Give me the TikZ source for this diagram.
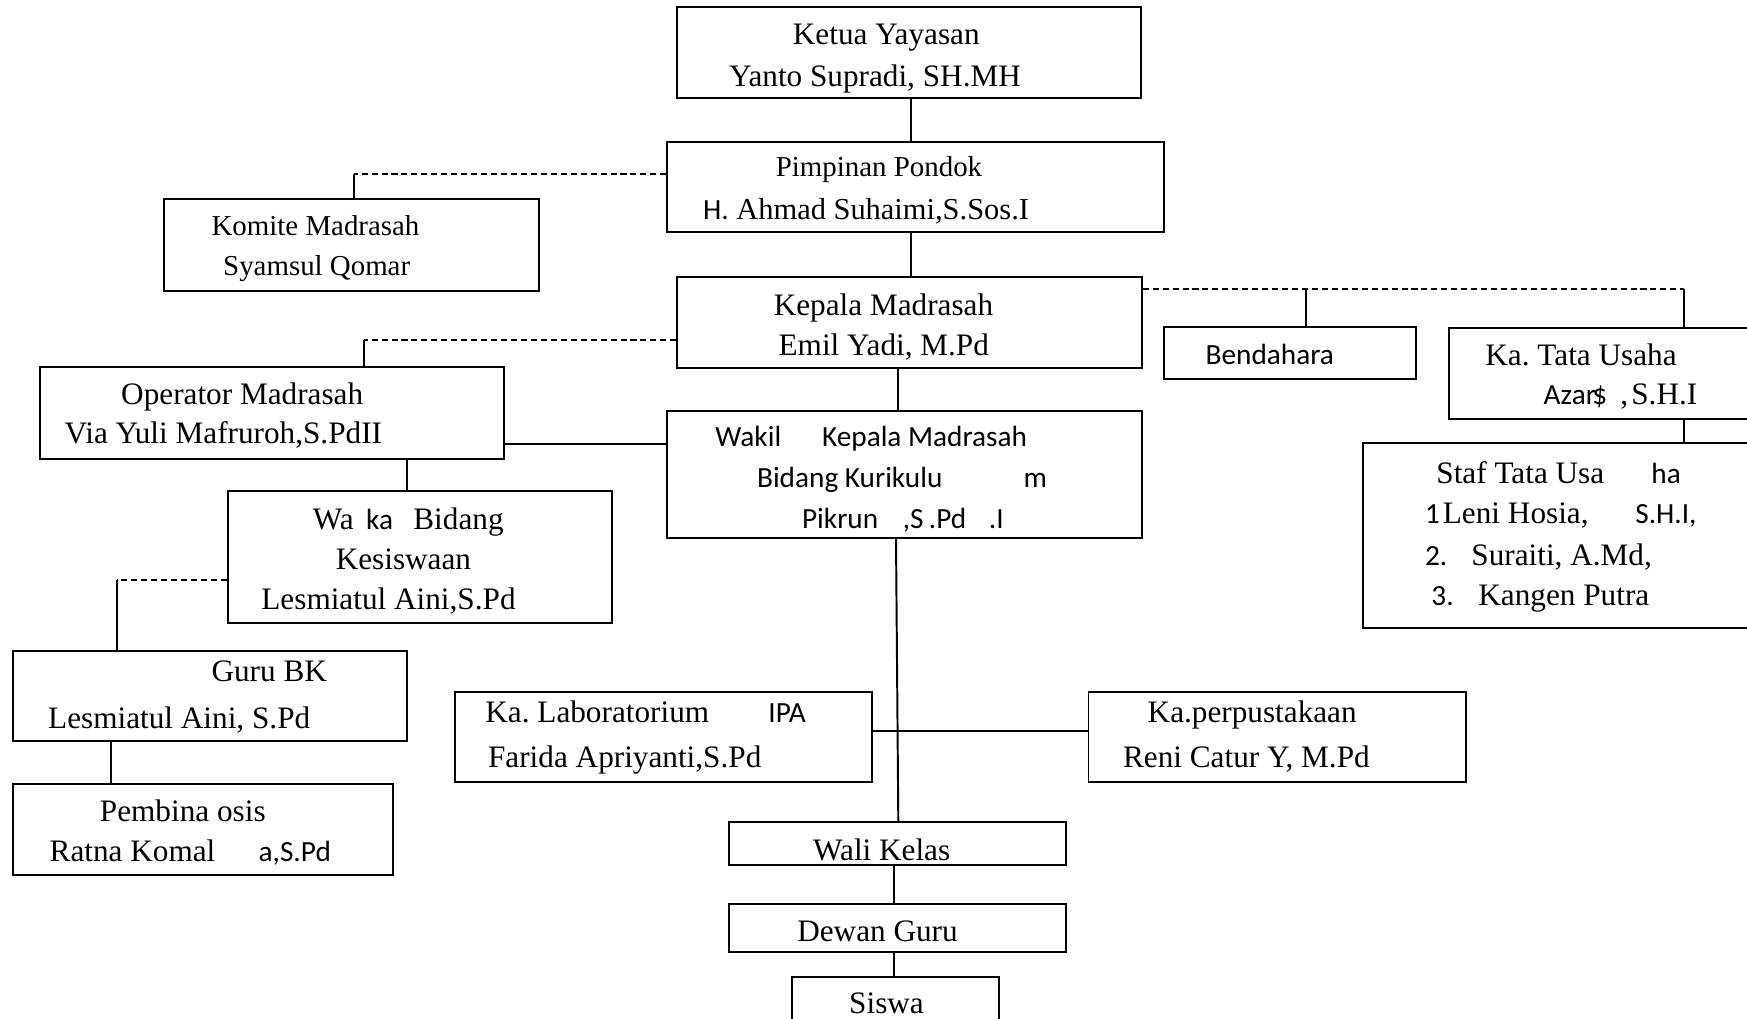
\documentclass[tikz,border=0pt]{standalone}
\usepackage{fontspec}
\setmainfont{Liberation Serif}
\newfontfamily\calf{Carlito}
\usetikzlibrary{fit}
\frenchspacing
\tikzset{
  orgbox/.style={draw, line width=1pt, inner sep=0pt, rectangle},
  link/.style={line width=1pt},
  dlink/.style={line width=1pt, dash pattern=on 3.1pt off 2pt},
  ts/.style={inner sep=0pt, font=\frenchspacing\fontsize{16}{19}\selectfont},
  tsm/.style={inner sep=0pt, font=\frenchspacing\fontsize{14.8}{18}\selectfont},
  cs/.style={inner sep=0pt, font=\frenchspacing\calf\fontsize{15}{18}\selectfont},
}
\begin{document}
\frenchspacing
\begin{tikzpicture}[x=0.018cm,y=-0.018cm]
\useasboundingbox (0,0) rectangle (1747,1019);
\clip (0,0) rectangle (1747,1019);
% boxes
\node[orgbox, fit={(676.7,7.3) (1141,98.3)}] (ketua) {};
\node[orgbox, fit={(667.3,142.3) (1164,232.3)}] (pimpinan) {};
\node[orgbox, fit={(164,199.3) (539.3,290.7)}] (komite) {};
\node[orgbox, fit={(677.3,276.7) (1141.7,368.3)}] (kepala) {};
\node[orgbox, fit={(1164,327.3) (1415.7,379.3)}] (bendahara) {};
\node[orgbox, fit={(1448.7,327.7) (1760,419)}] (katata) {};
\node[orgbox, fit={(1362.8,443) (1760,627.7)}] (staf) {};
\node[orgbox, fit={(40,367.3) (503.6,458.7)}] (operator) {};
\node[orgbox, fit={(667.3,411) (1141.7,537.7)}] (wakil) {};
\node[orgbox, fit={(228,490.7) (611.7,622.7)}] (waka) {};
\node[orgbox, fit={(13.3,650.7) (407.3,740.7)}] (guru) {};
\node[orgbox, fit={(13.3,784) (393.3,875)}] (pembina) {};
\node[orgbox, fit={(454.6,692.3) (872.4,781.7)}] (kalab) {};
\node[orgbox, fit={(1088.5,692.3) (1465.9,781.7)}] (perpus) {};
\node[orgbox, fit={(729,822.3) (1065.7,865)}] (wali) {};
\node[orgbox, fit={(729,904) (1065.7,952.3)}] (dewan) {};
\node[orgbox, fit={(791.7,977.3) (999,1035)}] (siswa) {};
% texts
\node[ts, anchor=base] (t1) at (886.3,45) {Ketua Yayasan};
\node[ts, anchor=base] (t2) at (875,87) {Yanto Supradi, SH.MH};
\node[tsm, anchor=base] (t3) at (879,177) {Pimpinan Pondok};
\node[inner sep=0pt, anchor=base west, font=\frenchspacing\fontsize{15.6}{18}\selectfont] (t4) at (702.7,220) {{\calf\fontsize{15}{18}\selectfont H.} Ahmad Suhaimi,S.Sos.I};
\node[tsm, anchor=base] (t5) at (315.5,235.7) {Komite Madrasah};
\node[tsm, anchor=base] (t6) at (316.7,275) {Syamsul Qomar};
\node[ts, anchor=base] (t7) at (883.5,315) {Kepala Madrasah};
\node[ts, anchor=base] (t8) at (883.8,355) {Emil Yadi, M.Pd};
\node[cs, anchor=base] (t9) at (1269.8,364) {Bendahara};
\node[ts, anchor=base] (t10) at (1581,365) {Ka. Tata Usaha};
\node[cs, anchor=base west] (t11) at (1543.3,404) {Azar\kern-0.12em\$};
\node[ts, anchor=base west] (t12) at (1620,404) {\spaceskip=0.1em\relax , S.H.I};
\node[ts, anchor=base west] (t13) at (1436,483.5) {Staf Tata Usa};
\node[cs, anchor=base west] (t14) at (1651,483.5) {ha};
\node[cs, anchor=base west] (t15) at (1424.7,523.5) {1};
\node[ts, anchor=base west] (t16) at (1442.5,523.5) {Leni Hosia,};
\node[cs, anchor=base west] (t17) at (1635,523.5) {S.H.I,};
\node[cs, anchor=base west] (t18) at (1424.7,565.5) {2.};
\node[ts, anchor=base west] (t19) at (1471,565.5) {Suraiti, A.Md,};
\node[cs, anchor=base west] (t20) at (1431,605.5) {3.};
\node[ts, anchor=base west] (t21) at (1478,605.5) {Kangen Putra};
\node[ts, anchor=base] (t22) at (242.2,404.5) {Operator Madrasah};
\node[ts, anchor=base] (t23) at (223.4,443.3) {Via Yuli Mafruroh,S.PdII};
\node[cs, anchor=base west] (t24) at (715,446.7) {Wakil};
\node[cs, anchor=base west] (t25) at (821.7,446.7) {Kepala Madrasah};
\node[cs, anchor=base west] (t26) at (756.7,487.5) {Bidang Kurikulu};
\node[cs, anchor=base west] (t27) at (1023.3,487.5) {m};
\node[cs, anchor=base west] (t28) at (801.7,528.3) {Pikrun};
\node[cs, anchor=base west] (t29) at (902.5,528.3) {,S};
\node[cs, anchor=base west] (t29b) at (928.5,528.3) {.Pd};
\node[cs, anchor=base west] (t29c) at (988.5,528.3) {.I};
\node[ts, anchor=base west] (t30) at (312.4,529) {Wa};
\node[cs, anchor=base west] (t31) at (365.8,529) {ka};
\node[ts, anchor=base west] (t32) at (413,529) {Bidang};
\node[ts, anchor=base] (t33) at (403.4,569) {Kesiswaan};
\node[ts, anchor=base] (t34) at (388.5,609) {Lesmiatul Aini,S.Pd};
\node[ts, anchor=base] (t35) at (269.2,681.5) {Guru BK};
\node[ts, anchor=base] (t36) at (179.2,728) {Lesmiatul Aini, S.Pd};
\node[ts, anchor=base] (t37) at (182.8,821) {Pembina osis};
\node[ts, anchor=base west] (t38) at (49.3,861) {Ratna Komal};
\node[cs, anchor=base west] (t39) at (258.3,861) {a,S.Pd};
\node[ts, anchor=base west] (t40) at (485,722.7) {Ka. Laboratorium};
\node[cs, anchor=base west] (t41) at (768,722.7) {IPA};
\node[ts, anchor=base west] (t42) at (487.7,767.3) {Farida Apriyanti,S.Pd};
\node[ts, anchor=base] (t43) at (1252.2,722.7) {Ka.perpustakaan};
\node[ts, anchor=base] (t44) at (1246.4,767.3) {Reni Catur Y, M.Pd};
\node[ts, anchor=base] (t45) at (881.7,860) {Wali Kelas};
\node[ts, anchor=base] (t46) at (877.5,941.7) {Dewan Guru};
\node[ts, anchor=base] (t47) at (886.5,1013.3) {Siswa};
% connectors
\coordinate (cKP) at (911,0);
\draw[link] (ketua.south -| cKP) -- (pimpinan.north -| cKP);
\draw[link] (pimpinan.south -| cKP) -- (kepala.north -| cKP);
\coordinate (kKom) at (354,174);
\draw[dlink] (pimpinan.west |- kKom) -- (kKom);
\draw[link] (kKom) -- (komite.north -| kKom);
\coordinate (kOp) at (364,340);
\draw[dlink] (kepala.west |- kOp) -- (kOp);
\draw[link] (kOp) -- (operator.north -| kOp);
\coordinate (kTU) at (1684,289);
\coordinate (kBen) at (1306,289);
\draw[dlink] (kepala.east |- kTU) -- (kTU);
\draw[link] (kBen) -- (bendahara.north -| kBen);
\draw[link] (kTU) -- (katata.north -| kTU);
\draw[link] (katata.south -| kTU) -- (staf.north -| kTU);
\coordinate (cKW) at (898.3,0);
\draw[link] (kepala.south -| cKW) -- (wakil.north -| cKW);
\coordinate (rOW) at (0,444);
\draw[link] (operator.east |- rOW) -- (wakil.west |- rOW);
\coordinate (cOW) at (407.3,0);
\draw[link] (operator.south -| cOW) -- (waka.north -| cOW);
\coordinate (kGuru) at (116.6,580);
\draw[dlink] (waka.west |- kGuru) -- (kGuru);
\draw[link] (kGuru) -- (guru.north -| kGuru);
\coordinate (cGP) at (111,0);
\draw[link] (guru.south -| cGP) -- (pembina.north -| cGP);
\coordinate (cW1) at (896,0);
\coordinate (cW2) at (898.3,0);
\draw[link] (wakil.south -| cW1) -- (wali.north -| cW2);
\coordinate (rLab) at (0,731);
\draw[link] (kalab.east |- rLab) -- (perpus.west |- rLab);
\coordinate (cWD) at (894,0);
\draw[link] (wali.south -| cWD) -- (dewan.north -| cWD);
\draw[link] (dewan.south -| cWD) -- (siswa.north -| cWD);
\end{tikzpicture}
\end{document}
